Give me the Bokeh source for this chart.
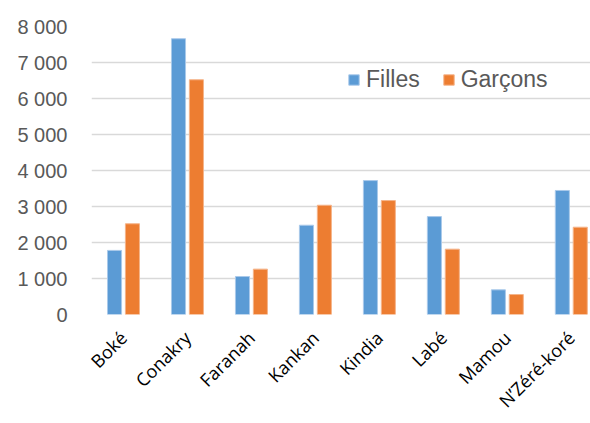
from bokeh.plotting import figure
from bokeh.models import ColumnDataSource, Range1d, FixedTicker, Legend, LegendItem
from bokeh.transform import dodge
from bokeh.embed import file_html
from bokeh.resources import INLINE
import math

regions = ["Boké", "Conakry", "Faranah", "Kankan", "Kindia", "Labé", "Mamou", "N’Zéré-koré"]
filles = [1780, 7660, 1055, 2480, 3720, 2720, 685, 3445]
garcons = [2520, 6520, 1260, 3035, 3165, 1815, 555, 2425]
y_ticks = [0, 1000, 2000, 3000, 4000, 5000, 6000, 7000, 8000]
y_tick_labels = ["0", "1 000", "2 000", "3 000", "4 000", "5 000", "6 000", "7 000", "8 000"]

xs = [i + 0.5 for i in range(len(regions))]
src = ColumnDataSource(dict(x=xs, filles=filles, garcons=garcons))

p = figure(width=590, height=423, output_backend="svg", toolbar_location=None,
           x_range=Range1d(0, 7.8), y_range=Range1d(0, 8000),
           min_border_left=91, min_border_right=0, min_border_top=26, min_border_bottom=109)
p.outline_line_color = None
p.background_fill_color = "white"

rf = p.vbar(x=dodge("x", -0.14, range=p.x_range), top="filles", width=0.22, source=src,
            fill_color="#5b9bd5", line_color="#a9c9ea", line_width=1)
rg = p.vbar(x=dodge("x", 0.14, range=p.x_range), top="garcons", width=0.22, source=src,
            fill_color="#ed7d31", line_color="#f5b48a", line_width=1)

p.xgrid.grid_line_color = None
p.ygrid.grid_line_color = "#d9d9d9"
p.ygrid.grid_line_width = 1.5
p.ygrid.ticker = FixedTicker(ticks=y_ticks)

p.yaxis.ticker = FixedTicker(ticks=y_ticks)
p.yaxis.major_label_overrides = {t: l for t, l in zip(y_ticks, y_tick_labels)}
p.yaxis.axis_line_color = None
p.yaxis.major_tick_line_color = None
p.yaxis.minor_tick_line_color = None
p.yaxis.major_tick_out = 0
p.yaxis.minor_tick_out = 0
p.yaxis.major_label_standoff = 24
p.yaxis.major_label_text_font = "Liberation Sans"
p.yaxis.major_label_text_font_size = "20px"
p.yaxis.major_label_text_color = "#595959"

p.xaxis.ticker = FixedTicker(ticks=xs)
p.xaxis.major_label_overrides = {x: r for x, r in zip(xs, regions)}
p.xaxis.axis_line_color = None
p.xaxis.major_tick_line_color = None
p.xaxis.minor_tick_line_color = None
p.xaxis.major_tick_out = 0
p.xaxis.minor_tick_out = 0
p.xaxis.major_label_orientation = math.pi / 4
p.xaxis.major_label_standoff = 20
p.xaxis.major_label_text_font = "Open Sans"
p.xaxis.major_label_text_font_size = "18px"
p.xaxis.major_label_text_color = "#000000"

legend = Legend(items=[LegendItem(label="Filles", renderers=[rf]),
                       LegendItem(label="Garçons", renderers=[rg])],
                orientation="horizontal", location=(256, 221),
                border_line_color=None, background_fill_alpha=0,
                glyph_width=13, glyph_height=13, label_standoff=6, spacing=22,
                padding=0, margin=0,
                label_text_font="Liberation Sans", label_text_font_size="23px",
                label_text_color="#595959")
p.add_layout(legend)

open("out.html", "w").write(file_html(p, INLINE))
